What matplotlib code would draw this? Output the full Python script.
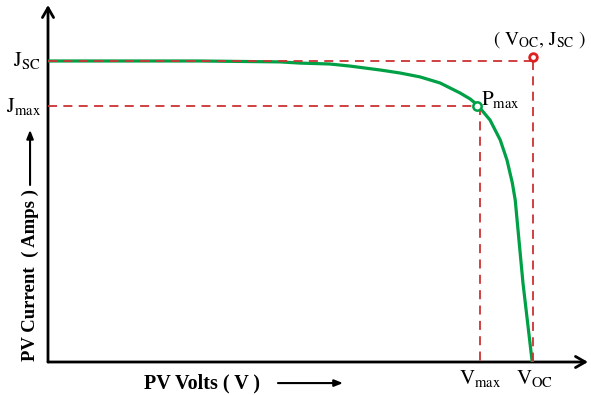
import matplotlib.pyplot as plt

plt.rcParams['mathtext.fontset'] = 'stix'
plt.rcParams['font.family'] = ['Liberation Serif', 'DejaVu Serif']

# normalised I-V curve (V / Voc, J / Jsc)
volts = [0.0, 0.313, 0.478, 0.520, 0.581, 0.623, 0.685, 0.726, 0.767, 0.808,
         0.849, 0.870, 0.885, 0.911, 0.932, 0.946, 0.957, 0.963, 0.979, 0.998]
amps = [1.0, 1.0, 0.997, 0.993, 0.990, 0.983, 0.970, 0.960, 0.947, 0.927,
        0.894, 0.874, 0.854, 0.804, 0.738, 0.671, 0.595, 0.538, 0.262, 0.0]

v_oc, j_sc = 1.0, 1.0
v_max, j_max = 0.891, 0.85
p_max = (0.884, 0.852)

red = '#cc3333'
green = '#00a046'

fig = plt.figure(figsize=(5.91, 3.95), dpi=100)
ax = fig.add_axes([48 / 591, 33 / 395, 540 / 591, 357 / 395])
ax.set_xlim(0, 1.113)
ax.set_ylim(0, 1.186)
ax.axis('off')

# axes with arrows
ax.annotate('', xy=(1.113, 0), xytext=(0, 0),
            arrowprops=dict(arrowstyle='->,head_length=0.7,head_width=0.4', lw=2.0, color='black',
                            shrinkA=0, shrinkB=0))
ax.annotate('', xy=(0, 1.186), xytext=(0, 0),
            arrowprops=dict(arrowstyle='->,head_length=0.7,head_width=0.4', lw=2.0, color='black',
                            shrinkA=0, shrinkB=0))

ax.plot(volts, amps, color=green, lw=2.3, zorder=3, solid_joinstyle='round')

dash = (0, (5, 3.5))
ax.plot([0, v_oc], [j_sc, j_sc], color=red, lw=1.3, ls=dash, zorder=4)
ax.plot([v_oc, v_oc], [j_sc, 0], color=red, lw=1.3, ls=dash, zorder=4)
ax.plot([0, v_max], [j_max, j_max], color=red, lw=1.3, ls=dash, zorder=4)
ax.plot([v_max, v_max], [j_max, 0], color=red, lw=1.3, ls=dash, zorder=4)

ax.plot(*p_max, 'o', ms=6, mfc='white', mec=green, mew=1.8, zorder=5)
ax.plot(v_oc, j_sc + 0.012, 'o', ms=5.5, mfc='white', mec='#e02020', mew=2, zorder=5)

fs = 15
ax.text(-0.015, j_sc, r'$\mathrm{J_{SC}}$', ha='right', va='center', fontsize=fs)
ax.text(-0.015, j_max, r'$\mathrm{J_{max}}$', ha='right', va='center', fontsize=fs)
ax.text(0.893, 0.872, r'$\mathrm{P_{max}}$', ha='left', va='center', fontsize=fs)
ax.text(1.012, 1.07, r'$\mathrm{(\ V_{OC},\,J_{SC}\ )}$', ha='center', va='center', fontsize=14)
ax.text(v_max, -0.055, r'$\mathrm{V_{max}}$', ha='center', va='center', fontsize=fs)
ax.text(v_oc + 0.003, -0.055, r'$\mathrm{V_{OC}}$', ha='center', va='center', fontsize=fs)

ax.text(0.318, -0.07, 'PV Volts ( V )', ha='center', va='center', fontsize=14.5, fontweight='bold')
ax.annotate('', xy=(0.608, -0.07), xytext=(0.474, -0.07), annotation_clip=False,
            arrowprops=dict(arrowstyle='-|>,head_length=0.5,head_width=0.2', lw=1.5, color='black',
                            shrinkA=0, shrinkB=0))

ax.text(-0.037, 0.289, 'PV Current  ( Amps )', rotation=90, ha='center', va='center',
        fontsize=13.5, fontweight='bold')
ax.annotate('', xy=(-0.037, 0.771), xytext=(-0.037, 0.588), annotation_clip=False,
            arrowprops=dict(arrowstyle='-|>,head_length=0.5,head_width=0.2', lw=1.5, color='black',
                            shrinkA=0, shrinkB=0))

fig.savefig('out.png', dpi=100)
